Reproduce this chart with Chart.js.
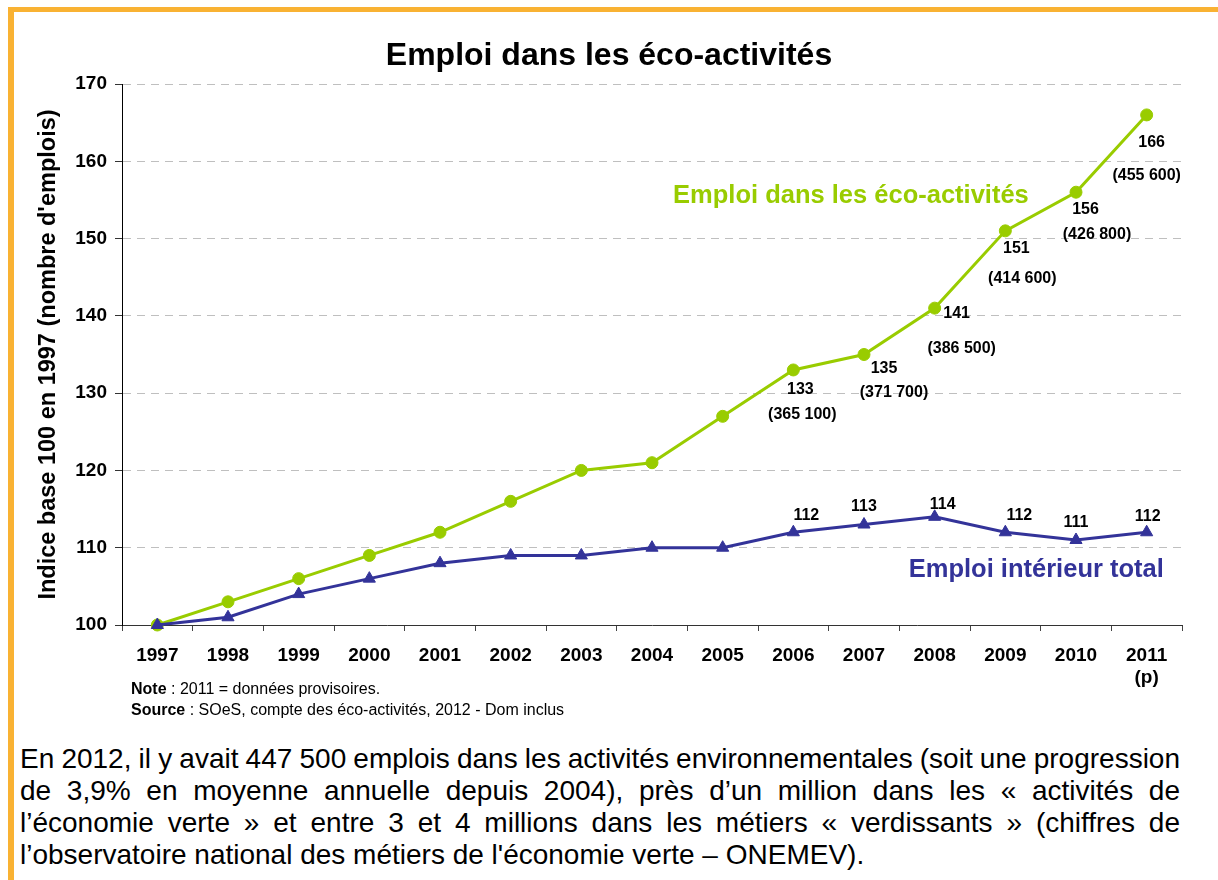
<!DOCTYPE html>
<html lang="fr">
<head>
<meta charset="utf-8">
<title>Emploi dans les éco-activités</title>
<script src="https://cdn.jsdelivr.net/npm/chart.js@4.4.1/dist/chart.umd.min.js"></script>
<style>
  html, body { margin: 0; padding: 0; background: #fff; overflow: hidden; }
  body { width: 1218px; height: 880px; position: relative; font-family: "Liberation Sans", Arial, sans-serif; }
  #cadre { position: absolute; left: 8px; top: 7px; width: 1220px; height: 880px;
           border-left: 6px solid #F9B233; border-top: 5px solid #F9B233; }
  #graphique { position: absolute; left: 0; top: 0; }
  #note { position: absolute; left: 131px; top: 678px; font-size: 16px; line-height: 21px; color: #000; }
  #texte { position: absolute; left: 20px; top: 743px; width: 1160px; font-size: 28px; line-height: 32px; color: #000; }
  #texte .j { text-align: justify; text-align-last: justify; word-spacing: -2px; }
</style>
</head>
<body>
<div id="cadre"></div>
<canvas id="graphique" width="1218" height="690"></canvas>
<div id="note"><b>Note</b> : 2011 = données provisoires.<br><b>Source</b> : SOeS, compte des éco-activités, 2012 - Dom inclus</div>
<div id="texte">
  <div class="j">En 2012, il y avait 447 500 emplois dans les activités environnementales (soit une progression</div>
  <div class="j">de 3,9% en moyenne annuelle depuis 2004), près d’un million dans les «&nbsp;activités de</div>
  <div class="j">l’économie verte&nbsp;» et entre 3 et 4 millions dans les métiers «&nbsp;verdissants&nbsp;» (chiffres de</div>
  <div>l’observatoire national des métiers de l'économie verte – ONEMEV).</div>
</div>
<script>
// Données
const annees = ["1997", "1998", "1999", "2000", "2001", "2002", "2003", "2004", "2005", "2006", "2007", "2008", "2009", "2010", ["2011", "(p)"]];
const indiceEco = [100, 103, 106, 109, 112, 116, 120, 121, 127, 133, 135, 141, 151, 156, 166];
const indiceTotal = [100, 101, 104, 106, 108, 109, 109, 110, 110, 112, 113, 114, 112, 111, 112];
const emploisEco = [null, null, null, null, null, null, null, null, null, 365100, 371700, 386500, 414600, 426800, 455600];
const yMin = 100, yMax = 170, yPas = 10;

const VERT = "#99CC00";
const BLEU = "#333399";
const FONT = '"Liberation Sans", Arial, sans-serif';
Chart.defaults.font.family = FONT;

// décalages (px) des étiquettes, pour coller à la mise en page d'origine
const decalEco = [[7, 20], [20, 14], [22, 5], [11, 18], [9.5, 17], [5, 28]];
const decalEcoNb = [[9, 45], [30, 38], [27, 40], [17, 48], [21, 42], [0, 61]];
const decalTotal = [[13, -16.6], [0, -17.5], [8, -12.7], [14, -17], [0, -17], [1, -16]];

function formatNombre(n) {
  return String(n).replace(/\B(?=(\d{3})+(?!\d))/g, " ");
}

const etiquettes = {
  id: "etiquettes",
  afterDatasetsDraw(chart) {
    const { ctx, scales: { x, y } } = chart;
    ctx.save();

    // titre, centré sur la largeur de l'image
    ctx.textAlign = "center";
    ctx.textBaseline = "alphabetic";
    ctx.fillStyle = "#000";
    ctx.font = "bold 32px " + FONT;
    ctx.fillText("Emploi dans les éco-activités", chart.width / 2, 65);

    ctx.textBaseline = "middle";
    ctx.font = "bold 16px " + FONT;
    let k = 0;
    emploisEco.forEach((nb, i) => {
      if (nb == null) return;
      const px = x.getPixelForValue(i);
      const pyE = y.getPixelForValue(indiceEco[i]);
      const pyT = y.getPixelForValue(indiceTotal[i]);
      ctx.fillText(String(indiceEco[i]), px + decalEco[k][0], pyE + decalEco[k][1]);
      ctx.fillText("(" + formatNombre(nb) + ")", px + decalEcoNb[k][0], pyE + decalEcoNb[k][1]);
      ctx.fillText(String(indiceTotal[i]), px + decalTotal[k][0], pyT + decalTotal[k][1]);
      k++;
    });

    // noms des séries
    ctx.textBaseline = "alphabetic";
    ctx.font = "bold 25.5px " + FONT;
    ctx.fillStyle = VERT;
    ctx.fillText("Emploi dans les éco-activités", x.getPixelForValue(9.815), y.getPixelForValue(155.9) + 10);
    ctx.fillStyle = BLEU;
    ctx.fillText("Emploi intérieur total", x.getPixelForValue(12.438), y.getPixelForValue(107.3) + 8);
    ctx.restore();
  }
};

new Chart(document.getElementById("graphique"), {
  type: "line",
  data: {
    labels: annees,
    datasets: [
      {
        label: "Emploi intérieur total",
        data: indiceTotal,
        borderColor: BLEU,
        backgroundColor: BLEU,
        borderWidth: 3,
        pointStyle: "triangle",
        pointRadius: 7,
        pointBorderWidth: 1,
        tension: 0,
        clip: false,
        order: 0,
      },
      {
        label: "Emploi dans les éco-activités",
        data: indiceEco,
        borderColor: VERT,
        backgroundColor: VERT,
        borderWidth: 3,
        pointStyle: "circle",
        pointRadius: 6,
        pointBorderWidth: 1,
        tension: 0,
        clip: false,
        order: 1,
      },
    ],
  },
  options: {
    responsive: false,
    animation: false,
    devicePixelRatio: 1,
    layout: { padding: { left: 0, right: 36, top: 84, bottom: 0 } },
    plugins: {
      legend: { display: false },
      tooltip: { enabled: false },
      title: { display: false },
    },
    scales: {
      x: {
        type: "category",
        offset: true,
        afterFit: (s) => { s.height = 65; },
        grid: { drawOnChartArea: false, offset: true, tickLength: 6, color: "#444" },
        border: { color: "#333", width: 1 },
        ticks: { color: "#000", font: { size: 19, weight: "bold" }, padding: 13, maxRotation: 0, autoSkip: false },
      },
      y: {
        min: yMin,
        max: yMax,
        afterFit: (s) => { s.width = 122; },
        ticks: { stepSize: yPas, color: "#000", font: { size: 19, weight: "bold" }, padding: 8 },
        grid: {
          color: (c) => (c.tick && c.tick.value === yMin ? "rgba(0,0,0,0)" : "#BFBFBF"),
          tickColor: "#333",
          tickLength: 7,
        },
        border: { color: "#000", width: 1, dash: [8, 6] },
        title: {
          display: true,
          text: "Indice base 100 en 1997 (nombre d'emplois)",
          color: "#000",
          font: { size: 23.5, weight: "bold" },
          padding: { top: 34.5, bottom: 0 },
        },
      },
    },
  },
  plugins: [etiquettes],
});
</script>
</body>
</html>
